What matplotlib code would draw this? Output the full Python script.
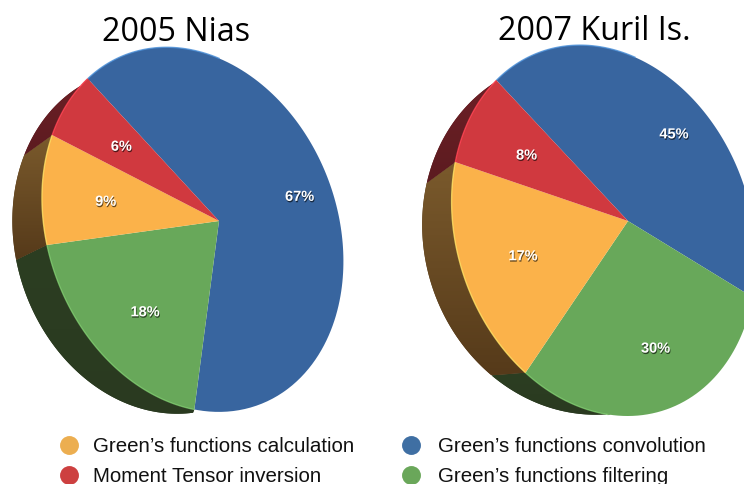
import numpy as np
import matplotlib
matplotlib.use('Agg')
import matplotlib.pyplot as plt
import matplotlib.patheffects as pe
from matplotlib.colors import LinearSegmentedColormap
from matplotlib.patches import Polygon
from matplotlib.path import Path
from matplotlib.transforms import Affine2D, Transform

plt.rcParams['font.family'] = ['Liberation Sans', 'DejaVu Sans']

# shares in percent, same order in both pies
labels = ["Green\u2019s functions convolution", "Green\u2019s functions filtering",
          "Green\u2019s functions calculation", "Moment Tensor inversion"]
nias = [67, 18, 9, 6]
kuril = [45, 30, 17, 8]

colors = ['#38659f', '#68a85a', '#fbb24a', '#d0393f']
rim_colors = ['#4a8fd8', '#7cc86c', '#ffe060', '#ff4050']
side_top = [None, '#2c3e22', '#7a5a2c', '#6d2026']
side_bottom = [None, '#2a3a20', '#563a1a', '#5c1b20']
legend_colors = ['#3f6fa3', '#6aa75a', '#ecae50', '#cd4040']


def wrap(a):
    return (a + 180) % 360 - 180


def image_angle(pts, apex):
    d = np.asarray(pts, dtype=float) - apex
    return np.degrees(np.arctan2(-d[:, 1], d[:, 0]))


def fit_conic(pts, apex):
    # the rim of a tilted disc is an ellipse, coordinates relative to the apex
    d = (np.asarray(pts, dtype=float) - apex) / 300
    x, y = d[:, 0], d[:, 1]
    q = np.linalg.svd(np.c_[x * x, x * y, y * y, x, y, np.ones_like(x)])[2][-1]
    return q if q[0] + q[2] > 0 else -q


def ray_length(q, phi):
    # distance from the apex to the ellipse along image angle phi (degrees)
    c, s = np.cos(np.radians(phi)), -np.sin(np.radians(phi))
    a = q[0] * c * c + q[1] * c * s + q[2] * s * s
    b = q[3] * c + q[4] * s
    return 300 * (-b + np.sqrt(np.maximum(b * b - 4 * a * q[5], 0))) / (2 * a)


class TiltedPie(Transform):
    # maps the unit circle of ax.pie onto the tilted disc of the picture:
    # spokes stay straight, the rim lies on the fitted ellipse
    input_dims = 2
    output_dims = 2
    is_separable = False
    has_inverse = False

    def __init__(self, apex, outline, corners, values, start):
        super().__init__()
        self.apex = np.array(apex, dtype=float)
        self.cut = start - 3.6 * np.r_[0, np.cumsum(values)[:-1]]
        self.delta = wrap(image_angle(corners, self.apex) - self.cut)
        # a corner on the picture edge gives the angle only, the rim is further out
        self.conic = fit_conic(outline + [c for c in corners if c[0] < 744], self.apex)

    def transform_non_affine(self, values):
        v = np.asarray(values, dtype=float)
        r = np.hypot(v[:, 0], v[:, 1])
        theta = np.degrees(np.arctan2(v[:, 1], v[:, 0]))
        phi = theta + np.interp(theta, self.cut, self.delta, period=360)
        rho = r * ray_length(self.conic, phi)
        phi = np.radians(phi)
        return np.c_[self.apex[0] + rho * np.cos(phi), self.apex[1] - rho * np.sin(phi)]

    def transform_path_non_affine(self, path):
        flat = Affine2D().scale(1000).transform_path(path).to_polygons(closed_only=False)[0] / 1000
        return Path(self.transform_non_affine(flat))


def unit(angles):
    a = np.radians(angles)
    return np.c_[np.cos(a), np.sin(a)]


def draw_pie(ax, values, apex, outline, corners, bottom_angles, bottom_pts, side_limit, start,
             label_r, label_turn):
    top = TiltedPie(apex, outline, corners, values, start)
    back_conic = fit_conic(bottom_pts, top.apex)
    back_phi = wrap(image_angle(bottom_pts, top.apex) - np.array(bottom_angles))
    wedges, _, pcts = ax.pie(values, colors=colors, startangle=start, counterclock=False,
                             autopct='%d%%', frame=False, wedgeprops={'linewidth': 0})
    tr = top + ax.transData
    for i, w in enumerate(wedges):
        w.set_transform(tr)
        w.set_zorder(3)
        t1, t2 = (88, start) if i == 0 else (w.theta1, min(w.theta2, side_limit))
        edge = top.transform_non_affine(unit(np.linspace(t1, t2, 80)))
        ax.plot(edge[:, 0], edge[:, 1], color=rim_colors[i], lw=1.0, alpha=0.8,
                zorder=3.5, solid_capstyle='butt')
        mid = (w.theta1 + w.theta2) / 2 + label_turn[i]
        pcts[i].set_position(label_r[i] * unit([mid])[0])
        if i == 0:
            continue
        steps = np.linspace(w.theta1, min(w.theta2, side_limit), 80)
        back = steps[::-1] + np.interp(steps[::-1] % 360, bottom_angles, back_phi)
        rho = ray_length(back_conic, back)
        back_xy = np.c_[top.apex[0] + rho * np.cos(np.radians(back)),
                        top.apex[1] - rho * np.sin(np.radians(back))]
        poly = np.r_[top.transform_non_affine(unit(steps)), back_xy]
        ax.fill(poly[:, 0], poly[:, 1], color=side_bottom[i], lw=0, zorder=1.9)
        cmap = LinearSegmentedColormap.from_list('side', [side_top[i], side_bottom[i]])
        img = ax.imshow(np.linspace(0, 1, 64).reshape(-1, 1), cmap=cmap, aspect='auto', zorder=2,
                        extent=[poly[:, 0].min(), poly[:, 0].max(), poly[:, 1].max(), poly[:, 1].min()])
        img.set_clip_path(Polygon(poly, transform=ax.transData))
    for t in pcts:
        t.set_transform(tr)
        t.set_color('white')
        t.set_fontsize(10.5)
        t.set_fontweight('bold')
        t.set_zorder(5)
        t.set_path_effects([pe.withSimplePatchShadow(offset=(0.5, -1), shadow_rgbFace='k', alpha=0.6)])


fig = plt.figure(figsize=(7.44, 4.84), dpi=100)
ax = fig.add_axes([0, 0, 1, 1])

# outline of each disc, corners are the slice ends on the rim
nias_corners = [(88, 79), (194, 412), (47, 245), (52, 135)]
nias_outline = [(117, 58), (167, 46), (220, 58), (253, 78), (287, 112), (313, 150), (333, 190),
                (342, 227), (344, 260), (342, 293), (330, 333), (310, 363), (283, 390), (253, 407),
                (213, 413), (57, 280), (80, 327), (113, 363), (153, 393), (43, 177), (42, 203), (63, 113)]
nias_back_angles = [133, 144, 155, 171, 187, 197, 210, 223, 237, 245, 252]
nias_back = [(88, 79), (57, 110), (23, 157), (12, 203), (16, 260), (30, 307), (63, 353), (97, 387),
             (130, 407), (163, 413), (194, 412)]
draw_pie(ax, nias, (219, 221), nias_outline, nias_corners, nias_back_angles, nias_back, -108, 133,
         [0.72, 0.66, 0.64, 0.64], [-1, 5, 0, 0])

kuril_corners = [(497, 81), (744, 292), (526, 372), (455, 162)]
kuril_outline = [(577, 47), (633, 60), (700, 97), (744, 200), (744, 327), (733, 353), (707, 387),
                 (673, 408), (630, 415), (590, 410), (557, 397), (467, 287), (493, 333), (453, 227),
                 (452, 207), (468, 117)]
kuril_back_angles = [133, 161.8, 183, 205, 223, 232, 242, 250, 256]
kuril_back = [(497, 81), (427, 183), (422, 230), (440, 307), (492, 375), (523, 397), (557, 410),
              (590, 414), (612, 414)]
draw_pie(ax, kuril, (628, 221), kuril_outline, kuril_corners, kuril_back_angles, kuril_back, -104, 133,
         [0.71, 0.68, 0.64, 0.64], [11, 0, 0, 0])

ax.set_aspect('auto')
ax.set_xlim(0, 744)
ax.set_ylim(484, 0)
ax.axis('off')

ax.text(176, 41, '2005 Nias', fontsize=23.2, family='Open Sans', ha='center', va='baseline')
ax.text(594, 40, '2007 Kuril Is.', fontsize=23.2, family='Open Sans', ha='center', va='baseline')

legend_x = [411, 411, 69, 69]
legend_y = [445, 475, 445, 475]
text_gap = [27, 27, 24, 24]
for i in range(4):
    ax.scatter(legend_x[i], legend_y[i], s=185, color=legend_colors[i], lw=0, clip_on=False)
    ax.text(legend_x[i] + text_gap[i], legend_y[i] + 1, labels[i], fontsize=14.8, va='center', color='#111111')

fig.savefig('out.png', dpi=100)
